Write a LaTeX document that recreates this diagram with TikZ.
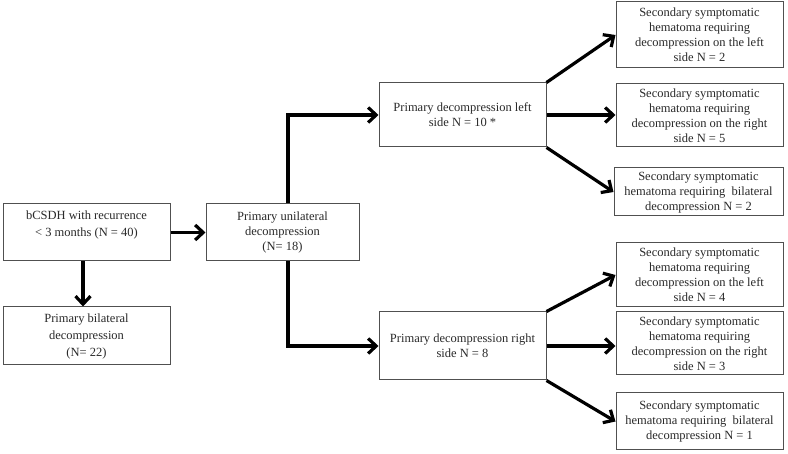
\documentclass[tikz,border=0pt]{standalone}
\usepackage{fontspec}
\setmainfont{Liberation Serif}
\usetikzlibrary{arrows.meta}
\definecolor{boxline}{HTML}{505050}
\definecolor{txtcol}{HTML}{2A2A2A}
\begin{document}
\begin{tikzpicture}[x=1pt,y=-1pt,
  box/.style={draw=boxline, line width=1pt, fill=white, align=center, inner sep=2pt,
    text=txtcol, font=\fontsize{12.5}{15}\selectfont},
  conn/.style={line width=3.2pt, -{Straight Barb[length=8pt,width=15pt]}}]
\useasboundingbox (0,0) rectangle (788,454);
\fill[white] (0,0) rectangle (788,454);
% left column
\node[box, minimum width=167pt, minimum height=57pt, font=\fontsize{12.5}{17}\selectfont] (A) at (86.5,232.5) {bCSDH with recurrence\\< 3 months (N = 40)\\\mbox{}};
\node[box, minimum width=167pt, minimum height=58pt, font=\fontsize{12.5}{17}\selectfont] (B) at (86.5,336) {Primary bilateral\\decompression\\(N= 22)};
\node[box, minimum width=153pt, minimum height=57pt] (C) at (282.5,232.5) {Primary unilateral\\decompression\\(N= 18)};
% middle column
\node[box, minimum width=167pt, minimum height=64pt] (D) at (462.5,115) {Primary decompression left\\side N = 10 *};
\node[box, minimum width=167pt, minimum height=68pt] (E) at (462.5,346) {Primary decompression right\\side N = 8};
% right column
\node[box, minimum width=167pt, minimum height=66pt] (R1) at (699.5,35) {Secondary symptomatic\\hematoma requiring\\decompression on the left\\side N = 2};
\node[box, minimum width=167pt, minimum height=63pt] (R2) at (699.5,115.5) {Secondary symptomatic\\hematoma requiring\\decompression on the right\\side N = 5};
\node[box, minimum width=169pt, minimum height=48pt] (R3) at (698.5,192) {Secondary symptomatic\\hematoma requiring\ \ bilateral\\decompression N = 2};
\node[box, minimum width=167pt, minimum height=64pt] (R4) at (699.5,275) {Secondary symptomatic\\hematoma requiring\\decompression on the left\\side N = 4};
\node[box, minimum width=167pt, minimum height=63pt] (R5) at (699.5,343.5) {Secondary symptomatic\\hematoma requiring\\decompression on the right\\side N = 3};
\node[box, minimum width=167pt, minimum height=57pt] (R6) at (699.5,421.5) {Secondary symptomatic\\hematoma requiring\ \ bilateral\\decompression N = 1};
% connectors
\coordinate (cx) at (288,0);
\coordinate (bx) at (83,0);
\draw[conn] (A.east) -- (A.east -| C.west);
\draw[conn] (A.south -| bx) -- (B.north -| bx);
\draw[conn] (C.north -| cx) |- (D.west);
\draw[conn] (C.south -| cx) |- (E.west);
\draw[conn] (D.north east) -- (R1.west);
\draw[conn] (D.east) -- (D.east -| R2.west);
\draw[conn] (D.south east) -- (R3.west);
\draw[conn] (E.north east) -- (R4.west);
\draw[conn] (E.east) -- (E.east -| R5.west);
\draw[conn] (E.south east) -- (R6.west);
\end{tikzpicture}
\end{document}
